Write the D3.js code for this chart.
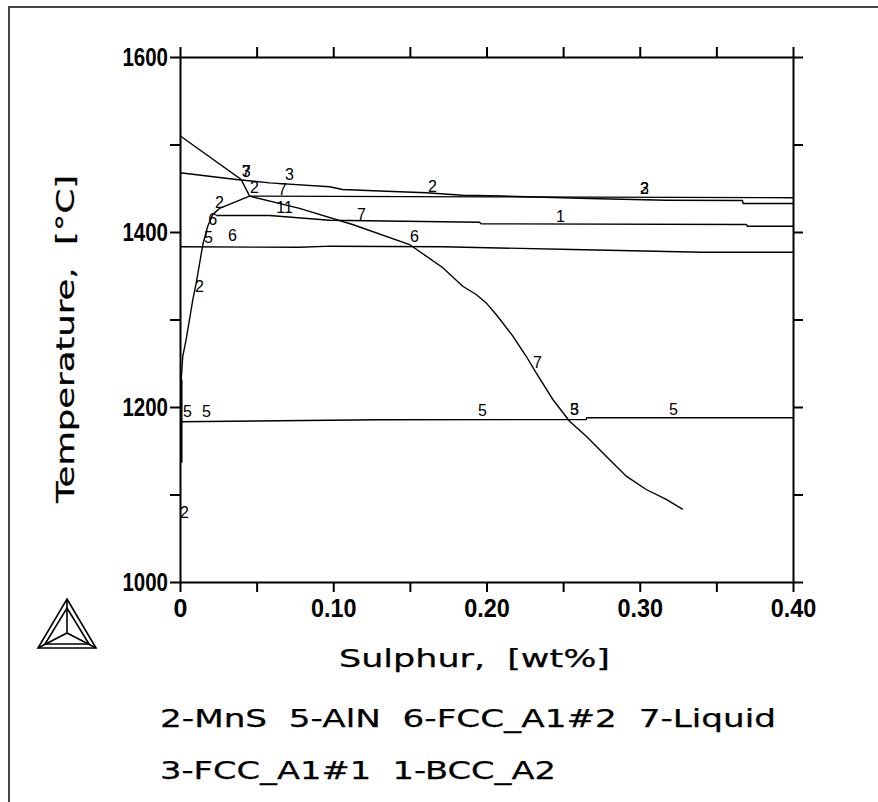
<!DOCTYPE html>
<html>
<head>
<meta charset="utf-8">
<script src="https://cdn.jsdelivr.net/npm/d3@7"></script>
<style>
  body { margin: 0; background: #fff; }
  svg { display: block; }
  .tick text { font-family: "Liberation Sans", Arial, sans-serif; font-weight: bold; font-size: 25px; fill: #000; }
  .lbl { font-family: "Liberation Sans", Arial, sans-serif; font-size: 16px; fill: #000; }
  .title { font-family: "DejaVu Sans", "Liberation Sans", sans-serif; font-size: 24px; fill: #000; stroke: #000; stroke-width: 0.25; white-space: pre; }
</style>
</head>
<body>
<div id="chart"></div>
<script>
//Svg container width and height
const c_width = 878;
const c_height = 802;

//Axis ticks and labels
const xTicks = [0, 0.05, 0.10, 0.15, 0.20, 0.25, 0.30, 0.35, 0.40];
const xLabeled = [0, 0.10, 0.20, 0.30, 0.40];
const yTicks = [1000, 1100, 1200, 1300, 1400, 1500, 1600];
const yLabeled = [1000, 1200, 1400, 1600];

//Phase boundaries, [wt% S, T in C]
const liquid = [[0, 1510], [0.0399, 1460], [0.0454, 1441], [0.078, 1427], [0.1126, 1408.6],
  [0.1498, 1385.7], [0.1713, 1359.4], [0.1845, 1338], [0.1933, 1328.6], [0.1998, 1319],
  [0.2063, 1305.7], [0.2172, 1281], [0.2259, 1258], [0.2324, 1239], [0.2433, 1208.6],
  [0.2542, 1183.8], [0.2651, 1166.6], [0.2781, 1143.8], [0.2912, 1121], [0.3042, 1105.7],
  [0.3173, 1094.3], [0.3281, 1083]];
const mnsUpper = [[0, 1467.7], [0.0367, 1460], [0.0584, 1456.2], [0.0976, 1451.7], [0.106, 1448.6],
  [0.1345, 1446.6], [0.1607, 1444.8], [0.1843, 1442], [0.2105, 1441.1], [0.2672, 1438.3],
  [0.3173, 1436.3], [0.367, 1436], [0.3675, 1432.6], [0.40, 1432.6]];
const fcc1 = [[0.0454, 1441], [0.20, 1440.2], [0.40, 1439.2]];
const bcc = [[0.0236, 1418.9], [0.0584, 1418.9], [0.0976, 1413.5], [0.1954, 1411.2],
  [0.1965, 1409.4], [0.3695, 1408.6], [0.3703, 1406.6], [0.40, 1406.6]];
const fcc2 = [[0, 1383.1], [0.0779, 1382.5], [0.0987, 1383.8], [0.1713, 1383.1],
  [0.2561, 1380], [0.341, 1376.9], [0.40, 1376.9]];
const aln = [[0, 1183.2], [0.13, 1185.5], [0.265, 1185.7], [0.2655, 1187.7], [0.40, 1187.7]];
const mnsSolvus = [[0.0454, 1441], [0.0258, 1426.9], [0.0214, 1420], [0.0181, 1406.6],
  [0.0149, 1385.7], [0.0106, 1341.9], [0.0084, 1322.9], [0.0062, 1300], [0.004, 1277.1],
  [0.0018, 1258], [0.0008, 1231.4], [0.0008, 1136.6]];
const mnsAxis = [[0.0012, 1231.4], [0.0012, 1136.6]];

//Curve labels: text, wt% S, T
const curveLabels = [
  ["3", 0.0432, 1470], ["7", 0.0432, 1470], ["3", 0.0715, 1465.7],
  ["2", 0.0486, 1450.9], ["7", 0.0669, 1448.6], ["2", 0.0258, 1433.7],
  ["11", 0.0682, 1428], ["7", 0.1184, 1420], ["2", 0.1648, 1452],
  ["1", 0.2483, 1417.7], ["2", 0.3031, 1449.7], ["3", 0.3031, 1449.7],
  ["6", 0.153, 1394.9], ["6", 0.0214, 1414.3], ["5", 0.0186, 1394.3],
  ["6", 0.0343, 1396.6], ["2", 0.0127, 1337.7], ["5", 0.0049, 1194.9],
  ["5", 0.0173, 1194.9], ["5", 0.1974, 1196], ["3", 0.2574, 1197],
  ["5", 0.2574, 1197], ["5", 0.322, 1197], ["7", 0.2333, 1250.9],
  ["2", 0.0029, 1079.4]];

const legendRows = ["2-MnS  5-AlN  6-FCC_A1#2  7-Liquid", "3-FCC_A1#1  1-BCC_A2"];

//The svg container
const svg = d3.select("#chart")
  .append("svg")
  .attr("width", c_width)
  .attr("height", c_height);

svg.append("rect").attr("width", c_width).attr("height", c_height).attr("fill", "#fff");

//outer frame
svg.append("rect")
  .attr("x", 9).attr("y", 7)
  .attr("width", 900).attr("height", 900)
  .attr("fill", "none").attr("stroke", "#444").attr("stroke-width", 2);

//scales
const xScale = d3.scaleLinear().domain([0, 0.4]).range([180, 793]);
const yScale = d3.scaleLinear().domain([1000, 1600]).range([582, 57]);

//axes
const fmtX = d => d === 0 ? "0" : (xLabeled.some(v => Math.abs(v - d) < 1e-9) ? d3.format(".2f")(d) : "");
const fmtY = d => yLabeled.includes(d) ? d : "";

function styleAxis(g) {
  g.selectAll("path, line").attr("stroke", "#000").attr("stroke-width", 2);
}

//squeeze the bold tick labels to the narrow look of the original
function narrow(g) {
  g.selectAll("text").each(function() {
    const t = d3.select(this).text();
    if (t.length > 1) {
      d3.select(this).attr("textLength", t.length * 11.4).attr("lengthAdjust", "spacingAndGlyphs");
    }
  });
}

svg.append("g")
  .attr("transform", "translate(0," + yScale(1000) + ")")
  .call(d3.axisBottom(xScale).tickValues(xTicks).tickSize(10).tickSizeOuter(0).tickPadding(7).tickFormat(fmtX))
  .call(styleAxis)
  .call(narrow);

svg.append("g")
  .attr("transform", "translate(0," + yScale(1600) + ")")
  .call(d3.axisTop(xScale).tickValues(xTicks).tickSize(10).tickSizeOuter(0).tickFormat(""))
  .call(styleAxis);

svg.append("g")
  .attr("transform", "translate(" + xScale(0) + ",0)")
  .call(d3.axisLeft(yScale).tickValues(yTicks).tickSize(10).tickSizeOuter(0).tickPadding(2).tickFormat(fmtY))
  .call(styleAxis)
  .call(narrow);

svg.append("g")
  .attr("transform", "translate(" + xScale(0.4) + ",0)")
  .call(d3.axisRight(yScale).tickValues(yTicks).tickSize(10).tickSizeOuter(0).tickFormat(""))
  .call(styleAxis);

//boundary lines
const line = d3.line().x(d => xScale(d[0])).y(d => yScale(d[1]));
[liquid, mnsUpper, fcc1, bcc, fcc2, aln, mnsSolvus, mnsAxis].forEach(s => {
  svg.append("path")
    .attr("d", line(s))
    .attr("fill", "none")
    .attr("stroke", "#000")
    .attr("stroke-width", 1.4);
});

//curve labels
svg.selectAll(".lbl")
  .data(curveLabels)
  .enter()
  .append("text")
  .attr("class", "lbl")
  .attr("x", d => xScale(d[1]))
  .attr("y", d => yScale(d[2]))
  .attr("dy", "0.36em")
  .attr("text-anchor", "middle")
  .text(d => d[0]);

//axis titles
svg.append("text")
  .attr("class", "title")
  .attr("x", 339).attr("y", 667)
  .attr("textLength", 271).attr("lengthAdjust", "spacingAndGlyphs")
  .text("Sulphur,  [wt%]");

svg.append("text")
  .attr("class", "title")
  .attr("transform", "translate(74,503) rotate(-90)")
  .attr("textLength", 328).attr("lengthAdjust", "spacingAndGlyphs")
  .text("Temperature,  [\u00b0C]");

//legend
svg.selectAll(".legend")
  .data(legendRows)
  .enter()
  .append("text")
  .attr("class", "title legend")
  .attr("x", 160)
  .attr("y", (d, i) => 727 + i * 52)
  .attr("textLength", (d, i) => i === 0 ? 616 : 396)
  .attr("lengthAdjust", "spacingAndGlyphs")
  .text(d => d);

//Thermo-Calc logo
const logo = svg.append("g").attr("transform", "translate(67,599)")
  .attr("fill", "none").attr("stroke", "#000").attr("stroke-width", 1.6);
logo.append("path").attr("d", "M0,0 L29,49 L-29,49 Z");
logo.append("path").attr("d", "M0,9 L22,45 L-22,45 Z");
logo.append("path").attr("d", "M0,0 L0,34 M-29,49 L0,34 L29,49");
</script>
</body>
</html>
